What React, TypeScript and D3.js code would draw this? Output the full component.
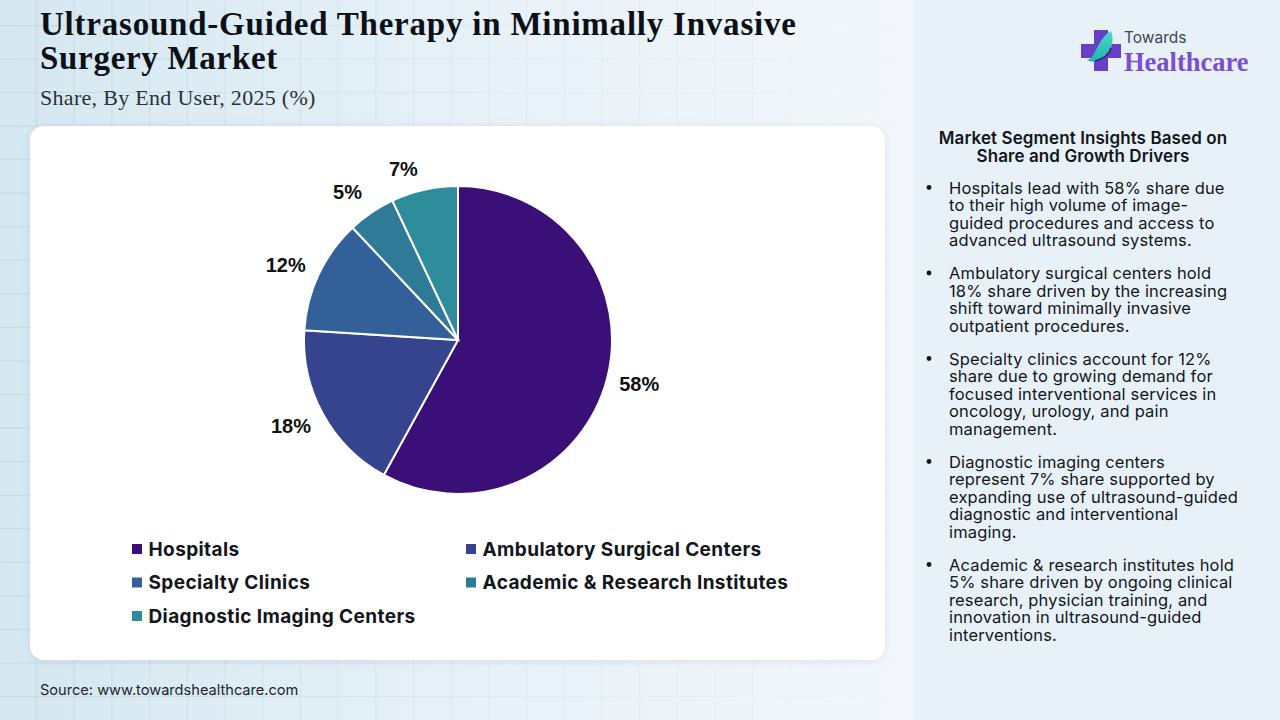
import React from 'react';
import * as d3 from 'd3';

const categories = ['Hospitals', 'Ambulatory Surgical Centers', 'Specialty Clinics', 'Academic & Research Institutes', 'Diagnostic Imaging Centers'];
const shares = [58, 18, 12, 5, 7];
const colors = ['#3a1078', '#36438f', '#34609a', '#2f7a97', '#2f8c9b'];
// hand nudges so the labels sit where the original put them
const labelNudge = [[1, -2], [-4, -4], [-4, 4], [-6, 6], [-14, 11]];

const insights = [
  ['Hospitals lead with 58% share due', 'to their high volume of image-', 'guided procedures and access to', 'advanced ultrasound systems.'],
  ['Ambulatory surgical centers hold', '18% share driven by the increasing', 'shift toward minimally invasive', 'outpatient procedures.'],
  ['Specialty clinics account for 12%', 'share due to growing demand for', 'focused interventional services in', 'oncology, urology, and pain', 'management.'],
  ['Diagnostic imaging centers', 'represent 7% share supported by', 'expanding use of ultrasound-guided', 'diagnostic and interventional', 'imaging.'],
  ['Academic & research institutes hold', '5% share driven by ongoing clinical', 'research, physician training, and', 'innovation in ultrasound-guided', 'interventions.'],
];

const gridX = d3.range(36, 900, 37.7);
const gridY = d3.range(25, 720, 33.55);

const SANS = 'Inter, "Noto Sans", sans-serif';
const SERIF = '"Liberation Serif", serif';

export default function App() {
  const cx = 458;
  const cy = 340;
  const r = 154;
  const pie = d3.pie<number>().sort(null).value((d) => d);
  const arcs = pie(shares);
  const arc = d3.arc<d3.PieArcDatum<number>>().innerRadius(0).outerRadius(r);
  const labelArc = d3.arc<d3.PieArcDatum<number>>().innerRadius(r + 32).outerRadius(r + 32);

  let lineY = 188.5;
  const insightRows = insights.map((lines) => {
    const top = lineY;
    lineY += lines.length * 17.5 + 15.5;
    return { lines, top };
  });

  return (
    <svg width={1280} height={720} style={{ position: 'absolute', left: 0, top: 0 }}>
      <defs>
        <linearGradient id="bg" x1="0" y1="0" x2="1" y2="0">
          <stop offset="0" stopColor="#d5e7f1" />
          <stop offset="0.45" stopColor="#e5f0f7" />
          <stop offset="1" stopColor="#f3f7fb" />
        </linearGradient>
        <linearGradient id="gridFade" gradientUnits="userSpaceOnUse" x1="0" y1="0" x2="900" y2="0">
          <stop offset="0" stopColor="#bfd2de" stopOpacity={0.7} />
          <stop offset="0.5" stopColor="#c9d8e2" stopOpacity={0.35} />
          <stop offset="1" stopColor="#c9d8e2" stopOpacity={0.05} />
        </linearGradient>
        <filter id="cardShadow" x="-5%" y="-5%" width="110%" height="110%">
          <feDropShadow dx="0" dy="1" stdDeviation="4" floodColor="#9fb0bf" floodOpacity="0.3" />
        </filter>
        <linearGradient id="logoLeaf" x1="0" y1="0" x2="0" y2="1">
          <stop offset="0" stopColor="#4fd8c4" />
          <stop offset="1" stopColor="#1fb5ae" />
        </linearGradient>
      </defs>

      <rect width={913} height={720} fill="url(#bg)" />
      {gridX.map((x) => (
        <rect key={x} x={x} y={0} width={1} height={720} fill="url(#gridFade)" />
      ))}
      {gridY.map((y) => (
        <rect key={y} x={0} y={y} width={900} height={1} fill="url(#gridFade)" />
      ))}
      <rect x={913} width={367} height={720} fill="#e9f1f8" />

      <g fontFamily={SERIF} fill="#0b1116">
        <text x={40} y={35} fontSize={33} fontWeight={700} letterSpacing={0.78}>Ultrasound-Guided Therapy in Minimally Invasive</text>
        <text x={40} y={69} fontSize={33} fontWeight={700} letterSpacing={0.7}>Surgery Market</text>
        <text x={40} y={105} fontSize={22} letterSpacing={0.3} fill="#2a3238">Share, By End User, 2025 (%)</text>
      </g>

      <rect x={30} y={126} width={855} height={534} rx={14} fill="#fff" filter="url(#cardShadow)" />

      <g transform={`translate(${cx},${cy})`}>
        {arcs.map((a, i) => (
          <path key={categories[i]} d={arc(a) ?? ''} fill={colors[i]} stroke="#fff" strokeWidth={2} />
        ))}
        {arcs.map((a, i) => {
          const [lx, ly] = labelArc.centroid(a);
          return (
            <text key={i} x={lx + labelNudge[i][0]} y={ly + labelNudge[i][1]} dy="0.35em" textAnchor="middle" fontFamily='"Liberation Sans", Arial, sans-serif' fontWeight={700} fontSize={20} fill="#111">
              {shares[i]}%
            </text>
          );
        })}
      </g>

      <g fontFamily={SANS} fontWeight={700} fontSize={19} letterSpacing={0.4} fill="#12161a">
        {categories.map((c, i) => {
          const x = i % 2 === 0 ? 132 : 466;
          const y = 549 + Math.floor(i / 2) * 33.5;
          return (
            <g key={c}>
              <rect x={x} y={y - 5} width={10} height={10} fill={colors[i]} />
              <text x={x + 16.5} y={y} dy="0.35em">{c}</text>
            </g>
          );
        })}
      </g>

      <text x={40} y={695} fontFamily={SANS} fontSize={14.6} fill="#20262b">Source: www.towardshealthcare.com</text>

      {/* logo */}
      <g>
        <path d="M1094 30h14v14h13v14h-13v13h-14v-13h-13v-14h13z" fill="#6a3fc8" />
        <path d="M1111 31c4 10 1 24-14 30c-4 1-7 1-10-1c9-1 9-20 24-29z" fill="url(#logoLeaf)" />
        <path d="M1111 48c-2 7-8 11-16 13" fill="none" stroke="#2b2a6b" strokeWidth={1.5} />
        <text x={1124} y={43} fontFamily={SANS} fontSize={15.5} fill="#3d4650">Towards</text>
        <text x={1124} y={71} fontFamily={SERIF} fontSize={26.5} fontWeight={700} fill="#7a4fd0">Healthcare</text>
      </g>

      <g fontFamily={SANS} fill="#12161a">
        <text x={1083} y={144} textAnchor="middle" fontSize={17} letterSpacing={0.1} fontWeight={600}>Market Segment Insights Based on</text>
        <text x={1083} y={162} textAnchor="middle" fontSize={17} letterSpacing={0.1} fontWeight={600}>Share and Growth Drivers</text>
        {insightRows.map((row) => (
          <g key={row.top}>
            <circle cx={929} cy={row.top - 1} r={2.4} fill="#12161a" />
            {row.lines.map((t, j) => (
              <text key={t} x={949} y={row.top + 5 + j * 17.5} fontSize={16.5} letterSpacing={0.15}>{t}</text>
            ))}
          </g>
        ))}
      </g>
    </svg>
  );
}
